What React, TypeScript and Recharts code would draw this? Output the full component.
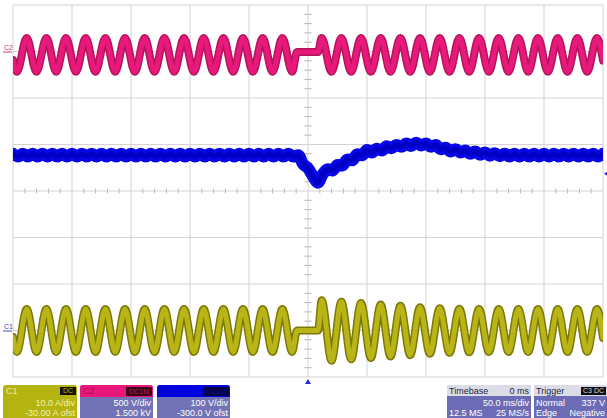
import React from 'react';
import { ComposedChart, Line, XAxis, YAxis, CartesianGrid, ReferenceDot, ReferenceLine } from 'recharts';

// time (ms) of sample points for C1 / C2 (extremes of the 60 Hz waves)
const timeMs = [-250, -246.7, -238.4, -230.1, -221.7, -213.4, -205.1, -196.7, -188.4, -180.1, -171.7, -163.4, -155.1, -146.7, -138.4, -130.1, -121.7, -113.4, -105.1, -96.7, -88.4, -80.1, -71.7, -63.4, -55.1, -46.7, -38.4, -30.1, -21.7, -13.4, -9.3, 8.5, 11.6, 19.9, 28.3, 36.6, 44.9, 53.3, 61.6, 69.9, 78.3, 86.6, 94.9, 103.3, 111.6, 119.9, 128.3, 136.6, 144.9, 153.3, 161.6, 169.9, 178.3, 186.6, 194.9, 203.3, 211.6, 219.9, 228.3, 236.6, 244.9, 250];

// C2 voltage (V)
const c2Volts = [-91, -218, 145, -218, 146, -217, 145, -218, 145, -218, 146, -218, 145, -217, 145, -218, 145, -218, 146, -218, 145, -217, 145, -218, 145, -218, 146, -218, 145, -218, -5, -5, 146, -218, 145, -217, 145, -218, 146, -218, 145, -218, 145, -217, 146, -218, 145, -218, 145, -218, 146, -217, 145, -218, 145, -218, 146, -218, 145, -217, 145, -96];

// C1 current (A)
const c1Amps = [-1.4, -4.6, 4.6, -4.6, 4.6, -4.6, 4.6, -4.6, 4.6, -4.6, 4.6, -4.6, 4.6, -4.6, 4.6, -4.6, 4.6, -4.6, 4.6, -4.6, 4.6, -4.6, 4.6, -4.6, 4.6, -4.6, 4.6, -4.6, 4.6, -4.6, 0, 0, 6.5, -6.5, 6.2, -6.2, 5.9, -5.9, 5.6, -5.6, 5.3, -5.3, 5.0, -5.0, 4.8, -4.8, 4.7, -4.7, 4.6, -4.6, 4.6, -4.6, 4.6, -4.6, 4.6, -4.6, 4.6, -4.6, 4.6, -4.6, 4.6, -1.6];

// C3 (DC bus) sample times (ms) and voltage (V)
const c3Times = [
  -250, -245.8, -241.7, -237.5, -233.3, -229.2,
  -225, -220.8, -216.7, -212.5, -208.3, -204.2,
  -200, -195.8, -191.7, -187.5, -183.3, -179.2,
  -175, -170.8, -166.7, -162.5, -158.3, -154.2,
  -150, -145.8, -141.7, -137.5, -133.3, -129.2,
  -125, -120.8, -116.7, -112.5, -108.3, -104.2,
  -100, -95.8, -91.7, -87.5, -83.3, -79.2,
  -75, -70.8, -66.7, -62.5, -58.3, -54.2,
  -50, -45.8, -41.7, -37.5, -33.3, -29.2,
  -25, -20.8, -16.7, -12.5, -8.3, -4.2,
  0, 4.2, 8.3, 12.5, 16.7, 20.8,
  25, 29.2, 33.3, 37.5, 41.7, 45.8,
  50, 54.2, 58.3, 62.5, 66.7, 70.8,
  75, 79.2, 83.3, 87.5, 91.7, 95.8,
  100, 104.2, 108.3, 112.5, 116.7, 120.8,
  125, 129.2, 133.3, 137.5, 141.7, 145.8,
  150, 154.2, 158.3, 162.5, 166.7, 170.8,
  175, 179.2, 183.3, 187.5, 191.7, 195.8,
  200, 204.2, 208.3, 212.5, 216.7, 220.8,
  225, 229.2, 233.3, 237.5, 241.7, 245.8,
  250,
];
const c3Volts = [
  380, 374, 380, 374, 380, 374,
  380, 374, 380, 374, 380, 374,
  380, 374, 380, 374, 380, 374,
  380, 374, 380, 374, 380, 374,
  380, 374, 380, 374, 380, 374,
  380, 374, 380, 374, 380, 374,
  380, 374, 380, 374, 380, 374,
  380, 374, 380, 374, 380, 374,
  380, 374, 380, 374, 380, 374,
  380, 374, 380, 374, 377, 358,
  349, 332, 318, 336, 347, 344,
  356, 355, 368, 366, 379, 377,
  388, 383, 391, 387, 396, 392,
  399, 395, 402, 397, 404, 398,
  402, 395, 399, 390, 393, 385,
  390, 383, 387, 380, 385, 378,
  383, 376, 381, 375, 380, 374,
  380, 374, 380, 374, 380, 374,
  380, 374, 380, 374, 380, 374,
  380, 374, 380, 374, 380, 374,
  380,
];

const xTicks = [-250, -200, -150, -100, -50, 0, 50, 100, 150, 200, 250];
const divTicks = [-4, -3, -2, -1, 0, 1, 2, 3, 4];
const minorTimeTicks = [-240, -230, -220, -210, -190, -180, -170, -160, -140, -130, -120, -110, -90, -80, -70, -60, -40, -30, -20, -10, 10, 20, 30, 40, 60, 70, 80, 90, 110, 120, 130, 140, 160, 170, 180, 190, 210, 220, 230, 240];
const minorDivTicks = [-3.8, -3.6, -3.4, -3.2, -2.8, -2.6, -2.4, -2.2, -1.8, -1.6, -1.4, -1.2, -0.8, -0.6, -0.4, -0.2, 0.2, 0.4, 0.6, 0.8, 1.2, 1.4, 1.6, 1.8, 2.2, 2.4, 2.6, 2.8, 3.2, 3.4, 3.6, 3.8];

const triggerLevelV = 337;

const waveData = timeMs.map((t, i) => ({ t, c2: c2Volts[i], c1: c1Amps[i] }));
const c3Data = c3Times.map((t, i) => ({ t, c3: c3Volts[i] }));

const FONT = "'Liberation Sans', Arial, Helvetica, sans-serif";
const SLATE = '#7273b6';

const GroundLabel = (label: string, color: string) => (props: any) => {
  const { cx, cy } = props;
  return (
    <g>
      <text x={cx - 9} y={cy - 1.5} fontSize={7} fill={color} fontFamily={FONT}>{label}</text>
      <line x1={cx - 10} x2={cx - 1} y1={cy + 0.5} y2={cy + 0.5} stroke={color} strokeWidth={1} />
    </g>
  );
};

const TrigLevelMark = (props: any) => {
  const { cx, cy } = props;
  return <path d={`M ${cx + 1} ${cy} L ${cx + 4} ${cy - 2} L ${cx + 4} ${cy + 2} Z`} fill="#2a2ad0" />;
};

const TrigTimeMark = (props: any) => {
  const { cx, cy } = props;
  return <path d={`M ${cx} ${cy + 2} L ${cx + 3} ${cy + 7} L ${cx - 3} ${cy + 7} Z`} fill="#2a2ad0" />;
};

const txt: React.CSSProperties = { position: 'absolute', fontSize: 9, lineHeight: '10px', whiteSpace: 'nowrap', fontFamily: FONT };

const lineCommon = { dot: false, activeDot: false, isAnimationActive: false, strokeLinejoin: 'round' as const, strokeLinecap: 'round' as const };

export default function App() {
  return (
    <div style={{ position: 'absolute', left: 0, top: 0, width: 607, height: 418, background: '#ffffff', overflow: 'hidden', fontFamily: FONT }}>
      <ComposedChart width={607} height={418} data={waveData} margin={{ top: 5, right: 4, bottom: 41, left: 13 }}>
        <XAxis dataKey="t" type="number" domain={[-250, 250]} ticks={xTicks} allowDataOverflow hide />
        <YAxis yAxisId="div" type="number" domain={[-4, 4]} ticks={divTicks} allowDataOverflow hide />
        <YAxis yAxisId="c1" type="number" domain={[-10, 70]} allowDataOverflow hide />
        <YAxis yAxisId="c2" type="number" domain={[-3500, 500]} allowDataOverflow hide />
        <YAxis yAxisId="c3" type="number" domain={[-100, 700]} allowDataOverflow hide />
        <CartesianGrid yAxisId="div" stroke="#d3d3d3" strokeWidth={1} fill="none" />
        {minorTimeTicks.map((t) => (
          <ReferenceLine key={'mt' + t} yAxisId="div" segment={[{ x: t, y: -0.05 }, { x: t, y: 0.05 }]} stroke="#b4b4b4" strokeWidth={1} />
        ))}
        {minorDivTicks.map((d) => (
          <ReferenceLine key={'md' + d} yAxisId="div" segment={[{ x: -3, y: d }, { x: 3, y: d }]} stroke="#b4b4b4" strokeWidth={1} />
        ))}
        <Line yAxisId="c2" dataKey="c2" type="monotone" stroke="#b3155c" strokeWidth={8} {...lineCommon} />
        <Line yAxisId="c2" dataKey="c2" type="monotone" stroke="#e8197a" strokeWidth={5} {...lineCommon} />
        <Line yAxisId="c3" data={c3Data} dataKey="c3" type="monotone" stroke="#0808e6" strokeWidth={12} {...lineCommon} />
        <Line yAxisId="c3" data={c3Data} dataKey="c3" type="monotone" stroke="#0000c4" strokeWidth={5} {...lineCommon} />
        <Line yAxisId="c1" dataKey="c1" type="monotone" stroke="#7d7908" strokeWidth={8} {...lineCommon} />
        <Line yAxisId="c1" dataKey="c1" type="monotone" stroke="#b9b516" strokeWidth={5} {...lineCommon} />
        <ReferenceDot yAxisId="c2" x={-250} y={0} ifOverflow="visible" shape={GroundLabel('C2', '#e0307a')} />
        <ReferenceDot yAxisId="c1" x={-250} y={0} ifOverflow="visible" shape={GroundLabel('C1', '#4a4ac0')} />
        <ReferenceDot yAxisId="c3" x={250} y={triggerLevelV} ifOverflow="visible" shape={TrigLevelMark} />
        <ReferenceDot yAxisId="div" x={0} y={-4} ifOverflow="visible" shape={TrigTimeMark} />
      </ComposedChart>

      {/* C1 descriptor */}
      <div style={{ position: 'absolute', left: 3, top: 385, width: 74, height: 33, background: '#b4b30f', borderRadius: '3px 3px 0 0', overflow: 'hidden' }}>
        <span style={{ ...txt, left: 3, top: 1, color: '#eeee9c' }}>C1</span>
        <span style={{ ...txt, right: 1, top: 2, fontSize: 7, lineHeight: '8px', background: '#141400', color: '#b4b30f', padding: '0 3px' }}>DC</span>
        <span style={{ ...txt, right: 2, top: 13, color: '#f3f2b6' }}>10.0 A/div</span>
        <span style={{ ...txt, right: 2, top: 23, color: '#f3f2b6' }}>-30.00 A ofst</span>
      </div>

      {/* C2 descriptor */}
      <div style={{ position: 'absolute', left: 80, top: 385, width: 73, height: 33, background: SLATE, borderRadius: '3px 3px 0 0', overflow: 'hidden' }}>
        <div style={{ position: 'absolute', left: 0, top: 0, width: 73, height: 12, background: '#e8187a' }} />
        <span style={{ ...txt, left: 3, top: 1, color: '#b0104e' }}>C2</span>
        <span style={{ ...txt, right: 1, top: 2, fontSize: 7, lineHeight: '9px', background: '#3c0618', color: '#b0205a', padding: '0 3px' }}>DC1M</span>
        <span style={{ ...txt, right: 2, top: 13, color: '#ffffff' }}>500 V/div</span>
        <span style={{ ...txt, right: 2, top: 23, color: '#ffffff' }}>1.500 kV</span>
      </div>

      {/* C3 descriptor */}
      <div style={{ position: 'absolute', left: 157, top: 385, width: 73, height: 33, background: SLATE, borderRadius: '3px 3px 0 0', overflow: 'hidden' }}>
        <div style={{ position: 'absolute', left: 0, top: 0, width: 73, height: 12, background: '#0202e0' }} />
        <span style={{ ...txt, left: 3, top: 1, color: '#0a0ab0' }}>C3</span>
        <span style={{ ...txt, right: 1, top: 2, fontSize: 7, lineHeight: '9px', background: '#02023e', color: '#10109a', padding: '0 3px' }}>DC1M</span>
        <span style={{ ...txt, right: 2, top: 13, color: '#ffffff' }}>100 V/div</span>
        <span style={{ ...txt, right: 2, top: 23, color: '#ffffff' }}>-300.0 V ofst</span>
      </div>

      {/* Timebase descriptor */}
      <div style={{ position: 'absolute', left: 447, top: 385, width: 84, height: 33, background: '#6c6cb6', borderRadius: '3px 3px 0 0', overflow: 'hidden' }}>
        <div style={{ position: 'absolute', left: 0, top: 0, width: 84, height: 11, background: '#dcdce6' }} />
        <span style={{ ...txt, left: 2, top: 1, color: '#1c1c3c' }}>Timebase</span>
        <span style={{ ...txt, right: 2, top: 1, color: '#1c1c3c' }}>0 ms</span>
        <span style={{ ...txt, right: 2, top: 13, color: '#ffffff' }}>50.0 ms/div</span>
        <span style={{ ...txt, left: 2, top: 23, color: '#ffffff' }}>12.5 MS</span>
        <span style={{ ...txt, right: 2, top: 23, color: '#ffffff' }}>25 MS/s</span>
      </div>

      {/* Trigger descriptor */}
      <div style={{ position: 'absolute', left: 534, top: 385, width: 73, height: 33, background: '#6c6cb6', borderRadius: '3px 3px 0 0', overflow: 'hidden' }}>
        <div style={{ position: 'absolute', left: 0, top: 0, width: 73, height: 11, background: '#dcdce6' }} />
        <span style={{ ...txt, left: 2, top: 1, color: '#1c1c3c' }}>Trigger</span>
        <span style={{ ...txt, right: 1, top: 2, fontSize: 7, lineHeight: '8px', background: '#101010', color: '#d8d8d8', padding: '0 2px' }}>C3 DC</span>
        <span style={{ ...txt, left: 2, top: 13, color: '#ffffff' }}>Normal</span>
        <span style={{ ...txt, right: 2, top: 13, color: '#ffffff' }}>337 V</span>
        <span style={{ ...txt, left: 2, top: 23, color: '#ffffff' }}>Edge</span>
        <span style={{ ...txt, right: 2, top: 23, color: '#ffffff' }}>Negative</span>
      </div>
    </div>
  );
}
